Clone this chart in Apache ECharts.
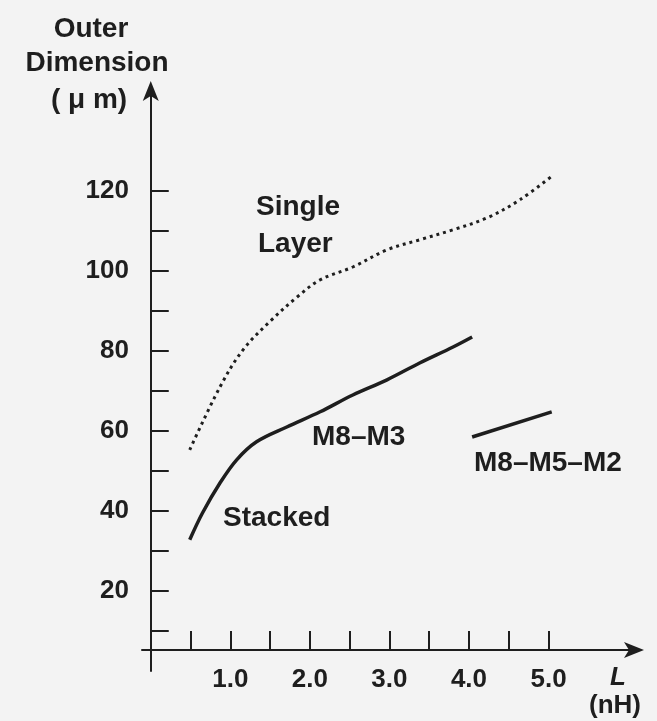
<!DOCTYPE html>
<html><head><meta charset="utf-8">
<script src="https://cdn.jsdelivr.net/npm/echarts@6/dist/echarts.min.js"></script>
<style>html,body{margin:0;padding:0;background:#f3f3f3}#c{width:657px;height:721px}</style>
</head><body><div id="c"></div>
<script>
// Data
const singleLayerX = [0.49, 0.87, 1.16, 1.52, 1.84, 2.13, 2.54, 2.97, 3.38, 3.80, 4.23, 4.64, 5.06];
const singleLayerY = [55.3, 71, 80.3, 87.8, 93.5, 97.8, 101, 105.3, 107.8, 110.3, 113.3, 117.8, 124];
const m8m3X = [0.49, 0.65, 0.87, 1.08, 1.33, 1.71, 2.13, 2.54, 2.97, 3.38, 3.80, 4.04];
const m8m3Y = [32.8, 39.5, 47, 52.8, 57.3, 61, 64.8, 69, 72.8, 77, 81, 83.5];
const m8m5m2X = [4.04, 5.04];
const m8m5m2Y = [58.5, 64.8];
const xTickValues = [0.5, 1, 1.5, 2, 2.5, 3, 3.5, 4, 4.5, 5];
const xLabelValues = [1, 2, 3, 4, 5];
const xTickLabels = ['1.0', '2.0', '3.0', '4.0', '5.0'];
const yTickValues = [10, 20, 30, 40, 50, 60, 70, 80, 90, 100, 110, 120];
const yLabelValues = [20, 40, 60, 80, 100, 120];
const yTickLabels = ['20', '40', '60', '80', '100', '120'];

const zip = (xs, ys) => xs.map((x, i) => [x, ys[i]]);
const INK = '#1e1e1e';
const FONT = '"Liberation Sans", Arial, sans-serif';
const txt = (text, x, y, align, size, extra) => ({
  type: 'text', x: x, y: y,
  style: Object.assign({ text: text, fill: INK, font: 'bold ' + size + 'px ' + FONT, align: align, verticalAlign: 'middle' }, extra || {})
});

const chart = echarts.init(document.getElementById('c'), null, { renderer: 'canvas' });
chart.setOption({
  backgroundColor: '#f3f3f3',
  animation: false,
  grid: { left: 142, right: 17, top: 85, bottom: 50, containLabel: false },
  xAxis: {
    type: 'value', min: -0.11, max: 6.15, offset: -21,
    axisLine: { show: true, onZero: false, symbol: ['none', 'arrow'], symbolSize: [12, 20], symbolOffset: [0, 4],
      lineStyle: { color: INK, width: 2 } },
    axisTick: { show: true, inside: true, length: 19, customValues: xTickValues, lineStyle: { color: INK, width: 2 } },
    axisLabel: { show: true, customValues: xLabelValues, margin: 17, color: INK, fontSize: 26, fontWeight: 'bold', fontFamily: FONT,
      formatter: v => xTickLabels[xLabelValues.indexOf(v)] },
    splitLine: { show: false }
  },
  yAxis: {
    type: 'value', min: 0, max: 146.5,
    axisLine: { show: true, onZero: true, symbol: ['none', 'arrow'], symbolSize: [12, 20], symbolOffset: [0, 4],
      lineStyle: { color: INK, width: 2 } },
    axisTick: { show: true, inside: true, length: 18, customValues: yTickValues, lineStyle: { color: INK, width: 2 } },
    axisLabel: { show: true, customValues: yLabelValues, margin: 13, color: INK, fontSize: 26, fontWeight: 'bold', fontFamily: FONT,
      formatter: v => yTickLabels[yLabelValues.indexOf(v)] },
    splitLine: { show: false }
  },
  series: [
    { name: 'Single Layer', type: 'line', data: zip(singleLayerX, singleLayerY), smooth: 0.35, showSymbol: false,
      lineStyle: { color: INK, width: 3, type: [3, 4] } },
    { name: 'M8-M3', type: 'line', data: zip(m8m3X, m8m3Y), smooth: 0.35, showSymbol: false,
      lineStyle: { color: INK, width: 3.5 } },
    { name: 'M8-M5-M2', type: 'line', data: zip(m8m5m2X, m8m5m2Y), showSymbol: false,
      lineStyle: { color: INK, width: 3.5 } }
  ],
  graphic: [
    txt('Outer', 91, 29, 'center', 28),
    txt('Dimension', 97, 63, 'center', 28),
    txt('( μ m)', 89, 100, 'center', 28),
    txt('Single', 256, 207, 'left', 28),
    txt('Layer', 258, 244, 'left', 28),
    txt('Stacked', 223, 518, 'left', 28),
    txt('M8–M3', 312, 437, 'left', 28),
    txt('M8–M5–M2', 474, 463, 'left', 28),
    txt('L', 618, 678, 'center', 26, { font: 'italic bold 26px ' + FONT }),
    txt('(nH)', 615, 706, 'center', 26)
  ]
});
</script></body></html>
